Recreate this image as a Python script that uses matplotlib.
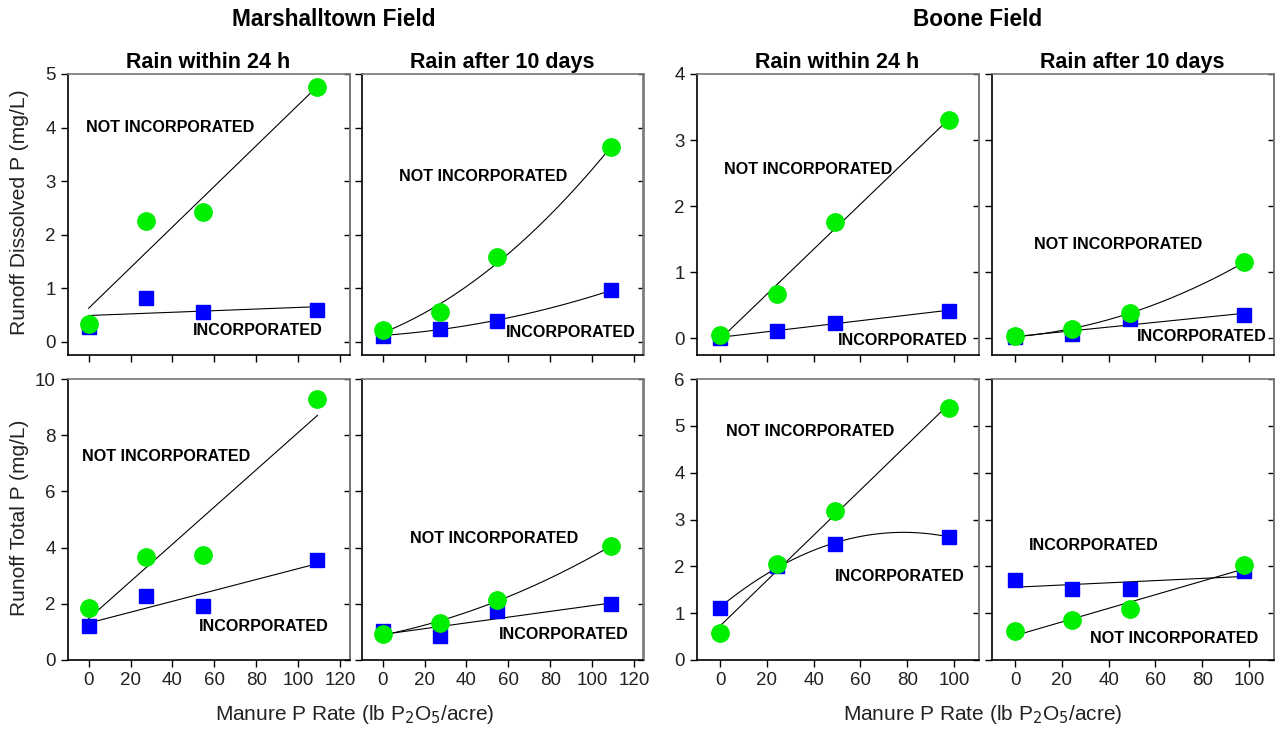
import numpy as np
import matplotlib
matplotlib.use('Agg')
import matplotlib.pyplot as plt

plt.rcParams['font.family'] = ['Liberation Sans', 'DejaVu Sans']

# manure P rates (lb P2O5/acre)
x_mt = [0, 27.3, 54.6, 109.2]
x_bo = [0, 24.5, 49, 98]

# runoff dissolved P (mg/L)
mt_dis_24h_not = [0.32, 2.25, 2.42, 4.76]
mt_dis_24h_inc = [0.28, 0.82, 0.55, 0.59]
mt_dis_10d_not = [0.22, 0.55, 1.58, 3.63]
mt_dis_10d_inc = [0.11, 0.24, 0.39, 0.96]
bo_dis_24h_not = [0.05, 0.67, 1.76, 3.31]
bo_dis_24h_inc = [0.01, 0.12, 0.24, 0.42]
bo_dis_10d_not = [0.03, 0.14, 0.39, 1.15]
bo_dis_10d_inc = [0.02, 0.07, 0.29, 0.35]

# runoff total P (mg/L)
mt_tot_24h_not = [1.86, 3.68, 3.72, 9.29]
mt_tot_24h_inc = [1.21, 2.29, 1.91, 3.55]
mt_tot_10d_not = [0.91, 1.33, 2.14, 4.06]
mt_tot_10d_inc = [1.03, 0.85, 1.74, 1.98]
bo_tot_24h_not = [0.58, 2.05, 3.19, 5.39]
bo_tot_24h_inc = [1.12, 2.00, 2.48, 2.63]
bo_tot_10d_not = [0.62, 0.85, 1.08, 2.03]
bo_tot_10d_inc = [1.71, 1.51, 1.51, 1.89]

GREEN = '#00ee00'
BLUE = '#0000ff'

fig = plt.figure(figsize=(12.77, 7.29), dpi=100)
W, H = 1277.0, 729.0


def make_ax(left, top, right, bottom):
    return fig.add_axes([left / W, 1 - bottom / H, (right - left) / W, (bottom - top) / H])


def draw(ax, x, not_inc, inc, deg_not, deg_inc, xlim, ylim, yticks, xticks,
         lab_not, lab_inc, show_y, show_x):
    xs = np.linspace(0, max(x), 200)
    # regression lines
    c = np.polyfit(x, inc, deg_inc)
    ax.plot(xs, np.polyval(c, xs), color='black', lw=0.8, zorder=2)
    c = np.polyfit(x, not_inc, deg_not)
    ax.plot(xs, np.polyval(c, xs), color='black', lw=0.8, zorder=2)
    ax.plot(x, inc, 's', color=BLUE, ms=10, mec=BLUE, zorder=3)
    ax.plot(x, not_inc, 'o', color=GREEN, ms=12.5, mec=GREEN, zorder=4)
    ax.text(lab_not[0], lab_not[1], 'NOT INCORPORATED', fontsize=11.6,
            fontweight='bold', ha='center', va='center', zorder=5)
    ax.text(lab_inc[0], lab_inc[1], 'INCORPORATED', fontsize=11.6,
            fontweight='bold', ha='center', va='center', zorder=5)
    ax.set_xlim(*xlim)
    ax.set_ylim(*ylim)
    ax.set_xticks(xticks)
    ax.set_yticks(yticks)
    ax.tick_params(axis='both', direction='out', length=5, width=1,
                   labelsize=13.5, labelleft=show_y, labelbottom=show_x,
                   colors='black', labelcolor='#222222')
    ax.spines['top'].set_color('#777777')
    ax.spines['right'].set_color('#777777')
    for s in ax.spines.values():
        s.set_linewidth(1.2)
    sec = ax.secondary_yaxis('right')
    sec.set_yticks(yticks)
    sec.tick_params(direction='in', length=4, width=1, labelright=False)
    sec.spines['right'].set_color('#777777')
    sec.spines['right'].set_linewidth(1.2)


mt_x = (-10, 124.5)
bo_x = (-10, 110.5)
mt_xt = [0, 20, 40, 60, 80, 100, 120]
bo_xt = [0, 20, 40, 60, 80, 100]

ax1 = make_ax(67.7, 74, 349.5, 355)
draw(ax1, x_mt, mt_dis_24h_not, mt_dis_24h_inc, 1, 1, mt_x, (-0.25, 5), range(0, 6), mt_xt,
     (39, 4.0), (80.6, 0.2), True, False)
ax2 = make_ax(361.7, 74, 643.5, 355)
draw(ax2, x_mt, mt_dis_10d_not, mt_dis_10d_inc, 2, 2, mt_x, (-0.25, 5), range(0, 6), mt_xt,
     (48, 3.08), (89.7, 0.17), False, False)
ax3 = make_ax(696.7, 74, 978.5, 355)
draw(ax3, x_bo, bo_dis_24h_not, bo_dis_24h_inc, 1, 1, bo_x, (-0.25, 4), range(0, 5), bo_xt,
     (37.5, 2.56), (78.3, -0.035), True, False)
ax4 = make_ax(991.7, 74, 1273.5, 355)
draw(ax4, x_bo, bo_dis_10d_not, bo_dis_10d_inc, 2, 1, bo_x, (-0.25, 4), range(0, 5), bo_xt,
     (44, 1.42), (79.8, 0.025), False, False)

ax5 = make_ax(67.7, 379, 349.5, 660)
draw(ax5, x_mt, mt_tot_24h_not, mt_tot_24h_inc, 1, 1, mt_x, (0, 10), range(0, 11, 2), mt_xt,
     (37, 7.24), (83.8, 1.19), True, True)
ax6 = make_ax(361.7, 379, 643.5, 660)
draw(ax6, x_mt, mt_tot_10d_not, mt_tot_10d_inc, 2, 1, mt_x, (0, 10), range(0, 11, 2), mt_xt,
     (53, 4.33), (86.5, 0.91), False, True)
ax7 = make_ax(696.7, 379, 978.5, 660)
draw(ax7, x_bo, bo_tot_24h_not, bo_tot_24h_inc, 1, 2, bo_x, (0, 6), range(0, 7), bo_xt,
     (38.5, 4.88), (77, 1.78), True, True)
ax8 = make_ax(991.7, 379, 1273.5, 660)
draw(ax8, x_bo, bo_tot_10d_not, bo_tot_10d_inc, 1, 1, bo_x, (0, 6), range(0, 7), bo_xt,
     (68, 0.45), (33.5, 2.44), False, True)

# titles
fig.text(334 / W, 1 - 20 / H, 'Marshalltown Field', fontsize=16.3, fontweight='bold',
         ha='center', va='center')
fig.text(978 / W, 1 - 20 / H, 'Boone Field', fontsize=16.3, fontweight='bold',
         ha='center', va='center')
for ax in (ax1, ax2, ax3, ax4):
    t = 'Rain within 24 h' if ax in (ax1, ax3) else 'Rain after 10 days'
    ax.set_title(t, fontsize=15.5, fontweight='bold', pad=4)

fig.text(20 / W, 1 - 212 / H, 'Runoff Dissolved P (mg/L)', fontsize=15.2, rotation=90,
         ha='center', va='center', color='#222222')
fig.text(20 / W, 1 - 518 / H, 'Runoff Total P (mg/L)', fontsize=15, rotation=90,
         ha='center', va='center', color='#222222')
fig.text(355 / W, 1 - 715 / H, 'Manure P Rate (lb P$_2$O$_5$/acre)', fontsize=15,
         ha='center', va='center', color='#222222')
fig.text(983 / W, 1 - 715 / H, 'Manure P Rate (lb P$_2$O$_5$/acre)', fontsize=15,
         ha='center', va='center', color='#222222')

plt.savefig('out.png', dpi=100)
plt.close()
